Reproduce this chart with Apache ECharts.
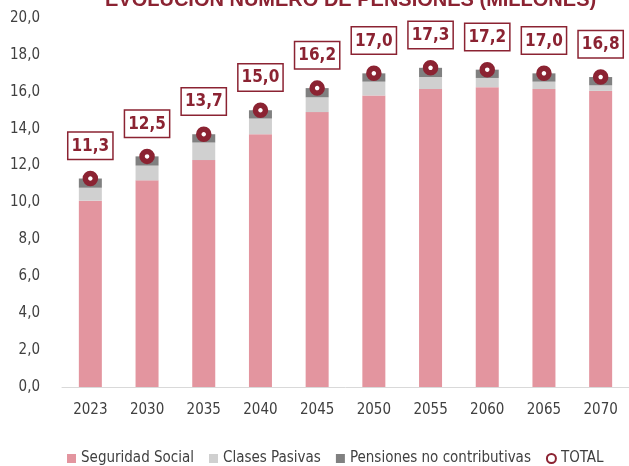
<!DOCTYPE html>
<html>
<head>
<meta charset="utf-8">
<script src="https://cdn.jsdelivr.net/npm/echarts@6/dist/echarts.min.js"></script>
<style>
  html, body { margin: 0; padding: 0; background: #fff; }
  #chart { width: 629px; height: 466px; }
</style>
</head>
<body>
<div id="chart"></div>
<script>
// datos (millones de pensiones)
const years = ['2023', '2030', '2035', '2040', '2045', '2050', '2055', '2060', '2065', '2070'];
const seguridadSocial = [10.1, 11.2, 12.3, 13.7, 14.9, 15.8, 16.15, 16.25, 16.15, 16.05];
const clasesPasivas = [0.7, 0.8, 0.95, 0.85, 0.8, 0.75, 0.65, 0.5, 0.4, 0.3];
const noContributivas = [0.5, 0.5, 0.45, 0.45, 0.5, 0.45, 0.5, 0.45, 0.45, 0.45];
const total = [11.3, 12.5, 13.7, 15.0, 16.2, 17.0, 17.3, 17.2, 17.0, 16.8];

const RED = '#8B2332';
const FONT = "'Liberation Sans Narrow', 'DejaVu Sans Condensed', sans-serif";
const comma = v => Number(v).toFixed(1).replace('.', ',');

const chart = echarts.init(document.getElementById('chart'));

chart.setOption({
  animation: false,
  title: {
    text: 'EVOLUCIÓN NÚMERO DE PENSIONES (MILLONES)',
    left: 100,
    top: -15,
    textStyle: { color: RED, fontSize: 20, fontWeight: 'bold', fontFamily: 'Liberation Sans, Arial, sans-serif' }
  },
  grid: { left: 62, right: -11, top: 18, bottom: 79 },
  legend: {
    top: 446,
    left: 62,
    width: 600,
    itemWidth: 9,
    itemHeight: 9,
    itemGap: 15,
    textStyle: { color: '#404040', fontSize: 15, fontFamily: FONT },
    data: [
      { name: 'Seguridad Social', icon: 'rect' },
      { name: 'Clases Pasivas', icon: 'rect' },
      { name: 'Pensiones no contributivas', icon: 'rect' },
      { name: 'TOTAL' }
    ]
  },
  xAxis: {
    type: 'category',
    data: years,
    axisTick: { show: false },
    axisLine: { lineStyle: { color: '#D9D9D9', width: 1 } },
    axisLabel: { color: '#404040', fontSize: 15, margin: 16, fontFamily: FONT }
  },
  yAxis: {
    type: 'value',
    min: 0,
    max: 20,
    interval: 2,
    splitLine: { show: false },
    axisLine: { show: false },
    axisTick: { show: false },
    axisLabel: { color: '#404040', fontSize: 15, margin: 22, fontFamily: FONT, formatter: comma }
  },
  series: [
    {
      name: 'Seguridad Social', type: 'bar', stack: 'p', barWidth: 23,
      itemStyle: { color: '#E3959F' }, data: seguridadSocial
    },
    {
      name: 'Clases Pasivas', type: 'bar', stack: 'p', barWidth: 23,
      itemStyle: { color: '#D0D0D0' }, data: clasesPasivas
    },
    {
      name: 'Pensiones no contributivas', type: 'bar', stack: 'p', barWidth: 23,
      itemStyle: { color: '#808080' }, data: noContributivas
    },
    {
      name: 'TOTAL', type: 'scatter', symbol: 'circle', symbolSize: 10, z: 5,
      itemStyle: { color: '#fff', borderColor: RED, borderWidth: 5.5, opacity: 1 },
      label: {
        show: true,
        position: 'top',
        distance: 12,
        color: RED,
        fontSize: 17,
        fontWeight: 'bold',
        fontFamily: FONT,
        backgroundColor: '#fff',
        borderColor: RED,
        borderWidth: 1.5,
        padding: [5, 3, 4, 3],
        formatter: p => comma(p.value)
      },
      data: total
    }
  ]
});
</script>
</body>
</html>
